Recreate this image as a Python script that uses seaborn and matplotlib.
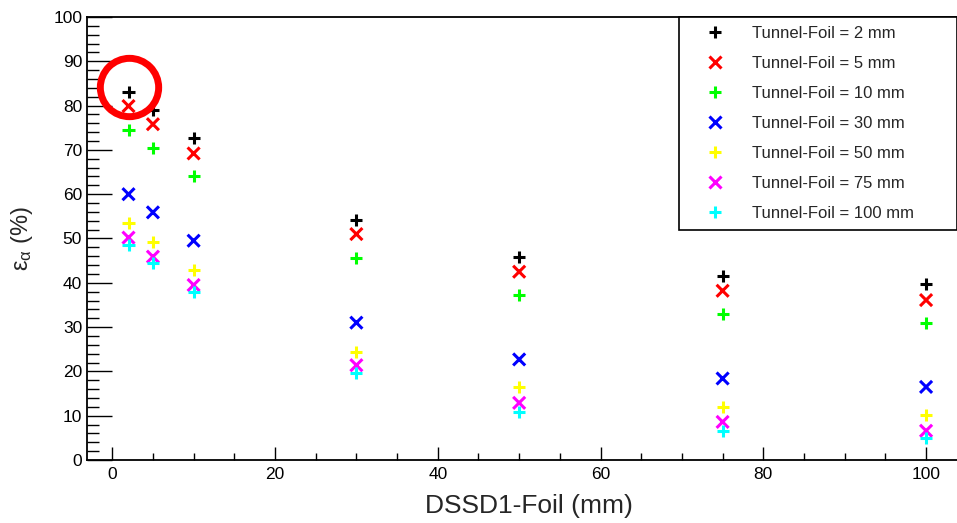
import matplotlib.pyplot as plt
import pandas as pd
import seaborn as sns

# DSSD1-Foil distance (mm)
dssd_foil = [2, 5, 10, 30, 50, 75, 100]

# alpha efficiency (%) for each Tunnel-Foil distance
tf_2 = [83.1, 78.9, 72.6, 54.2, 45.9, 41.5, 39.7]
tf_5 = [79.9, 75.8, 69.2, 51.0, 42.5, 38.2, 36.1]
tf_10 = [74.6, 70.5, 64.1, 45.7, 37.2, 33.0, 31.0]
tf_30 = [60.0, 55.9, 49.5, 31.0, 22.7, 18.4, 16.5]
tf_50 = [53.6, 49.3, 42.9, 24.4, 16.4, 11.9, 10.2]
tf_75 = [50.2, 45.9, 39.5, 21.4, 12.9, 8.6, 6.6]
tf_100 = [48.5, 44.4, 37.9, 19.6, 10.9, 6.5, 4.9]

series_labels = ["Tunnel-Foil = 2 mm", "Tunnel-Foil = 5 mm", "Tunnel-Foil = 10 mm",
                 "Tunnel-Foil = 30 mm", "Tunnel-Foil = 50 mm", "Tunnel-Foil = 75 mm",
                 "Tunnel-Foil = 100 mm"]
series_values = [tf_2, tf_5, tf_10, tf_30, tf_50, tf_75, tf_100]
colors = ["#000000", "#ff0000", "#00ff00", "#0000ff", "#ffff00", "#ff00ff", "#00ffff"]
marker_list = ["+", "x", "+", "x", "+", "x", "+"]

# highlighted point (red circle)
highlight_x = 2
highlight_y = 84.1

df = pd.DataFrame(
    [(x, y, lab) for lab, vals in zip(series_labels, series_values) for x, y in zip(dssd_foil, vals)],
    columns=["dssd", "eff", "series"],
)

sns.set_style("ticks")
plt.rcParams["font.family"] = ["Liberation Sans", "DejaVu Sans"]

fig = plt.figure(figsize=(9.57, 5.23), dpi=100)
ax = fig.add_axes([87 / 957, 63 / 523, 870 / 957, 443 / 523])

sns.scatterplot(
    data=df, x="dssd", y="eff", hue="series", style="series",
    palette=dict(zip(series_labels, colors)),
    markers=dict(zip(series_labels, marker_list)),
    hue_order=series_labels, style_order=series_labels,
    s=75, linewidth=2.2, ax=ax, zorder=3,
)

ax.plot([highlight_x], [highlight_y], marker="o", ms=42, mfc="none",
        mec="#ff0000", mew=5, zorder=5, clip_on=False)

ax.set_xlim(-3.1, 103.8)
ax.set_ylim(0, 100)
ax.set_xticks(range(0, 101, 20))
ax.set_xticks(range(0, 101, 5), minor=True)
ax.set_yticks(range(0, 101, 10))
ax.set_yticks(range(0, 101, 2), minor=True)

ax.tick_params(axis="both", which="both", direction="in", width=1.0, labelsize=12.5, colors="black")
ax.tick_params(axis="y", which="major", length=18, pad=3.5)
ax.tick_params(axis="y", which="minor", length=8.6)
ax.tick_params(axis="x", which="major", length=9.4, pad=5)
ax.tick_params(axis="x", which="minor", length=5)

for side in ["left", "bottom", "top"]:
    ax.spines[side].set_color("black")
    ax.spines[side].set_linewidth(1.3)
ax.spines["right"].set_visible(False)

ax.set_xlabel("DSSD1-Foil (mm)", fontsize=19)
ax.xaxis.set_label_coords(0.508, -0.077)
ax.set_ylabel(r"$\mathregular{\epsilon_{\alpha}}$ (%)", fontsize=17)
ax.yaxis.set_label_coords(-0.06, 0.5)

handles, labels = ax.get_legend_handles_labels()
leg = ax.legend(
    handles, labels,
    loc="upper left",
    bbox_to_anchor=(679 / 957, 0, 278 / 957, 1 - 17 / 523),
    bbox_transform=fig.transFigure,
    mode="expand", borderaxespad=0,
    fontsize=12, frameon=True, fancybox=False, framealpha=1,
    edgecolor="black", labelspacing=0.9, borderpad=0.55,
    handlelength=3.2, handletextpad=0.6, markerscale=1.0,
)
leg.get_frame().set_linewidth(1.2)

fig.savefig("out.png", dpi=100)
